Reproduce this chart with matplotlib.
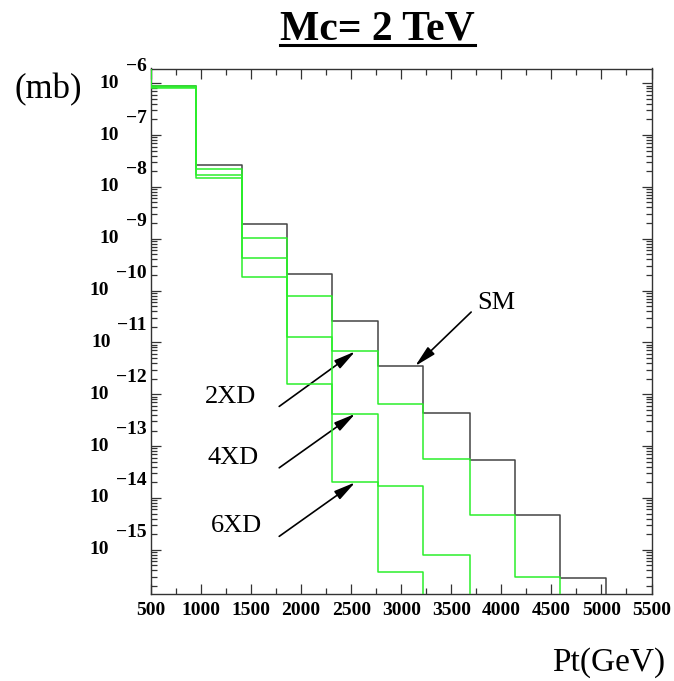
import matplotlib
matplotlib.use("Agg")
import matplotlib.pyplot as plt
import numpy as np
from matplotlib.lines import Line2D
from matplotlib.ticker import MultipleLocator, LogLocator, NullFormatter

# Pt bin edges (GeV) and cross sections per bin (mb)
edges = [500, 950, 1405, 1860, 2310, 2770, 3220, 3685, 4135, 4590, 5045]
sm = [9.0e-7, 2.6e-8, 1.9e-9, 2.1e-10, 2.6e-11, 3.5e-12, 4.4e-13, 5.4e-14, 4.6e-15, 2.9e-16]
xd2 = [8.8e-7, 2.2e-8, 1.04e-9, 8.0e-11, 6.7e-12, 6.5e-13, 5.7e-14, 4.6e-15, 3.0e-16]
xd4 = [8.4e-7, 1.7e-8, 4.2e-10, 1.27e-11, 4.2e-13, 1.7e-14, 7.9e-16]
xd6 = [8.0e-7, 1.46e-8, 1.8e-10, 1.6e-12, 2.0e-14, 3.8e-16]

x_ticks = [500, 1000, 1500, 2000, 2500, 3000, 3500, 4000, 4500, 5000, 5500]
y_exponents = [-6, -7, -8, -9, -10, -11, -12, -13, -14, -15]

green = '#2bef2b'
dark = '#333333'
serif = ['Liberation Serif', 'DejaVu Serif']

fig = plt.figure(figsize=(6.74, 6.81), dpi=100)
ax = fig.add_axes([151 / 674, 1 - 594 / 681, 500.5 / 674, 525.5 / 681])
ax.set_yscale('log')
ax.set_xlim(500, 5500)
ylo, yhi = 10 ** -15.852, 10 ** -5.7175
ax.set_ylim(ylo, yhi)


def draw_steps(vals, color, z):
    n = len(vals)
    xs = [edges[0]] + edges[:n + 1]
    ys = [yhi * 10] + vals + [ylo / 10]
    ax.step(xs, ys, where='post', color=color, lw=1.1, zorder=z)


draw_steps(sm, '#444444', 3)
for s in (xd2, xd4, xd6):
    draw_steps(s, green, 4)

# ticks
ax.xaxis.set_major_locator(MultipleLocator(500))
ax.xaxis.set_minor_locator(MultipleLocator(250))
ax.yaxis.set_major_locator(LogLocator(base=10, numticks=100))
ax.yaxis.set_minor_locator(LogLocator(base=10, subs=np.arange(2, 10), numticks=100))
ax.yaxis.set_major_formatter(NullFormatter())
ax.yaxis.set_minor_formatter(NullFormatter())
ax.tick_params(which='both', direction='in', top=True, right=True, color=dark, width=0.9)
ax.tick_params(which='major', length=7)
ax.tick_params(which='minor', length=4)
ax.set_xticks(x_ticks)
ax.set_xticklabels([str(t) for t in x_ticks], fontfamily=serif, fontweight='bold', fontsize=14)
ax.tick_params(axis='x', pad=6)
for sp in ax.spines.values():
    sp.set_color(dark)
    sp.set_linewidth(1.0)

# y tick labels in "10 with raised exponent" style
for k in y_exponents:
    ex = ax.annotate('\u2212' + str(-k), xy=(0, 10.0 ** k), xycoords=('axes fraction', 'data'),
                     xytext=(-4, 17), textcoords='offset pixels', ha='right', va='center',
                     fontfamily=serif, fontweight='bold', fontsize=14, annotation_clip=False)
    ax.annotate('10', xy=(0, 0.5), xycoords=ex, xytext=(-7, -17), textcoords='offset pixels',
                ha='right', va='center', fontfamily=serif, fontweight='bold', fontsize=14,
                annotation_clip=False)

# arrows with labels
arrow_kw = dict(arrowstyle='-|>,head_length=1.3,head_width=0.3', mutation_scale=10,
                color='black', lw=1.2, shrinkA=0, shrinkB=0)
notes = [
    ('2XD', xd2, 4, 0.5, (-76, -55), (-125, -46)),
    ('4XD', xd4, 4, 0.5, (-76, -54), (-122, -44)),
    ('6XD', xd6, 4, 0.5, (-76, -54), (-119, -44)),
    ('SM', sm, 5, 0.82, (56, 54), (81, 63)),
]
for label, s, b, frac, tail, toff in notes:
    hx = edges[b] + frac * (edges[b + 1] - edges[b])
    hy = s[b]
    ax.annotate('', xy=(hx, hy), xytext=tail, textcoords='offset pixels', arrowprops=arrow_kw)
    ax.annotate(label, xy=(hx, hy), xytext=toff, textcoords='offset pixels', ha='center',
                va='center', fontfamily=serif, fontsize=19)

# title (underlined) and axis labels
title = fig.text(377.5 / 674, 1 - 39 / 681, 'Mc= 2 TeV', ha='center', va='baseline',
                 fontfamily=serif, fontweight='bold', fontsize=30)
fig.text(48.5 / 674, 1 - 90 / 681, '(mb)', ha='center', va='center', fontfamily=serif, fontsize=25)
fig.text(609 / 674, 1 - 663 / 681, 'Pt(GeV)', ha='center', va='center', fontfamily=serif, fontsize=24)

fig.canvas.draw()
bb = title.get_window_extent(renderer=fig.canvas.get_renderer())
uy = 681 - 45
fig.add_artist(Line2D([bb.x0, bb.x1], [uy, uy], transform=None, color='black', lw=2.2))

fig.savefig('out.png', dpi=100)
